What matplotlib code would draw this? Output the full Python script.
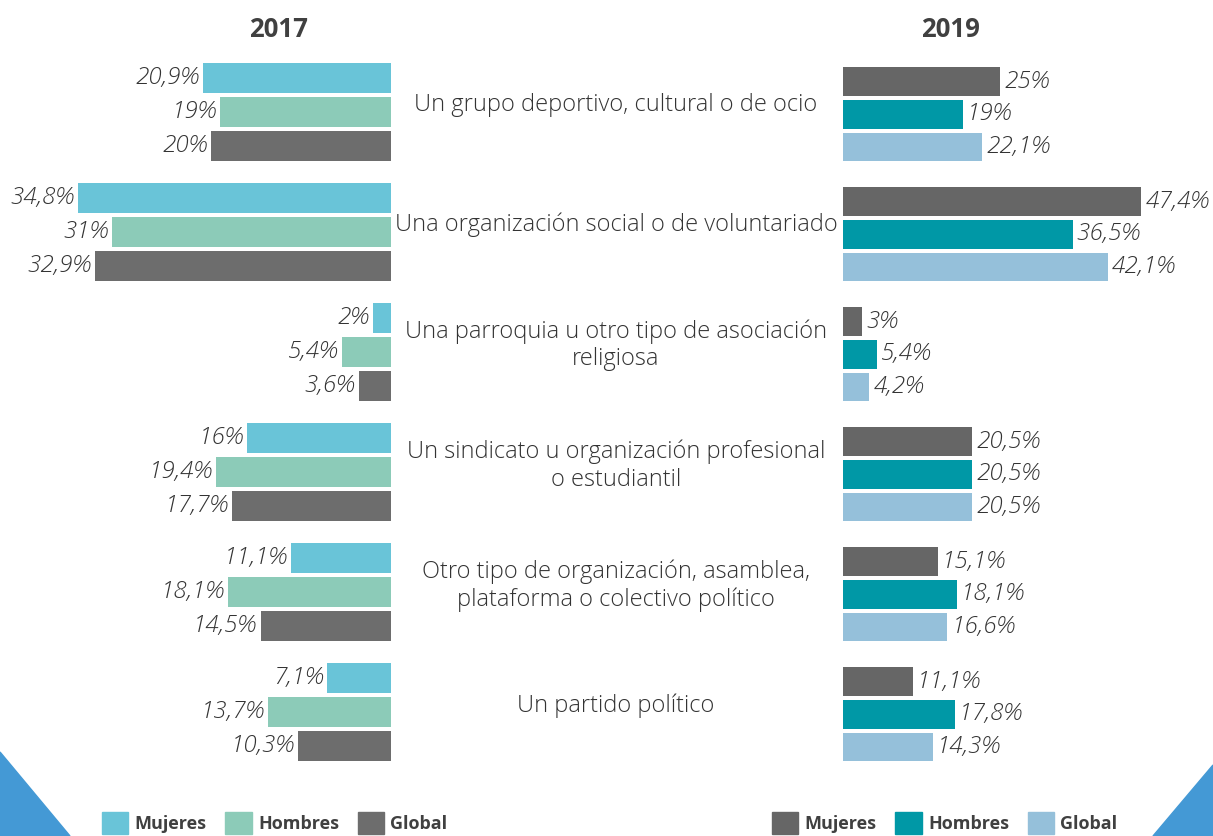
import numpy as np
import matplotlib.pyplot as plt
from matplotlib.patches import Polygon, Patch

plt.rcParams['font.family'] = ['Open Sans', 'DejaVu Sans']

## Data
categories = ["Un grupo deportivo, cultural o de ocio",
              "Una organización social o de voluntariado",
              "Una parroquia u otro tipo de asociación\nreligiosa",
              "Un sindicato u organización profesional\no estudiantil",
              "Otro tipo de organización, asamblea,\nplataforma o colectivo político",
              "Un partido político"]
series = ["Mujeres", "Hombres", "Global"]

m2017 = [20.9, 34.8, 2, 16, 11.1, 7.1]
h2017 = [19, 31, 5.4, 19.4, 18.1, 13.7]
g2017 = [20, 32.9, 3.6, 17.7, 14.5, 10.3]

m2019 = [25, 47.4, 3, 20.5, 15.1, 11.1]
h2019 = [19, 36.5, 5.4, 20.5, 18.1, 17.8]
g2019 = [22.1, 42.1, 4.2, 20.5, 16.6, 14.3]

col2017 = ['#69c4d8', '#8ccbb8', '#6d6d6d']
col2019 = ['#666666', '#0098a6', '#95c0da']

W, H = 1213, 836
fig = plt.figure(figsize=(W / 100, H / 100), dpi=100)

def fmt(v):
    return f"{v:g}".replace('.', ',') + '%'

y = np.arange(len(categories))
ylim = (-0.933 + H / 120, -0.933)   # 1 unit = 120 px

## left panel (2017): bars grow leftwards, right edge at px 391
axL = fig.add_axes([0, 0, 391 / W, 1])
axL.set_xlim(391 / 9.0, 0)
axL.set_ylim(*ylim)
for k, vals in enumerate([m2017, h2017, g2017]):
    off = (k - 1) * 0.283
    axL.barh(y + off, vals, height=0.25, color=col2017[k])
    for yi, v in zip(y, vals):
        axL.annotate(fmt(v), (v, yi + off), xytext=(-2.5, 0), textcoords='offset points',
                     ha='right', va='center', fontsize=17.5, style='italic',
                     fontweight='light', color='#333333')
axL.axis('off')
axL.text((391 - 279) / 9.0, -0.69, "2017", ha='center', va='center',
         fontsize=18.5, fontweight='bold', color='#404040')

## right panel (2019): bars grow rightwards from px 843
axR = fig.add_axes([843 / W, 0, (W - 843) / W, 1])
axR.set_xlim(0, (W - 843) / 6.29)
axR.set_ylim(*ylim)
for k, vals in enumerate([m2019, h2019, g2019]):
    off = (k - 1) * 0.272 + 0.02
    axR.barh(y + off, vals, height=0.24, color=col2019[k])
    for yi, v in zip(y, vals):
        axR.annotate(fmt(v), (v, yi + off), xytext=(3, 0), textcoords='offset points',
                     ha='left', va='center', fontsize=17.5, style='italic',
                     fontweight='light', color='#333333')
axR.axis('off')
axR.text((950 - 843) / 6.29, -0.69, "2019", ha='center', va='center',
         fontsize=18.5, fontweight='bold', color='#404040')

## category labels in the middle
for yi, c in zip(y, categories):
    fig.text(616 / W, 1 - (112 + yi * 120.2 - 7) / H, c, ha='center', va='center',
             fontsize=17, fontweight='light', color='#333333', linespacing=1.2)

## legends
hL = [Patch(color=c) for c in col2017]
hR = [Patch(color=c) for c in col2019]
legkw = dict(ncol=3, frameon=False, handlelength=1.45, handleheight=1.45,
             handletextpad=0.35, columnspacing=1.05, borderpad=0, borderaxespad=0,
             loc='center left', prop={'weight': 'bold', 'size': 13})
legL = fig.legend(hL, series, bbox_to_anchor=(102 / W, 1 - 823 / H), **legkw)
legR = fig.legend(hR, series, bbox_to_anchor=(772 / W, 1 - 823 / H), **legkw)
for leg in (legL, legR):
    for t in leg.get_texts():
        t.set_color('#404040')

## decorative corner triangles
fig.patches.append(Polygon([(0, 1 - 752 / H), (70 / W, 0), (0, 0)], closed=True,
                           transform=fig.transFigure, color='#4499d5', zorder=0))
fig.patches.append(Polygon([(1153 / W, 0), (1, 1 - 765 / H), (1, 0)], closed=True,
                           transform=fig.transFigure, color='#4499d5', zorder=0))

fig.savefig('out.png', dpi=100)
